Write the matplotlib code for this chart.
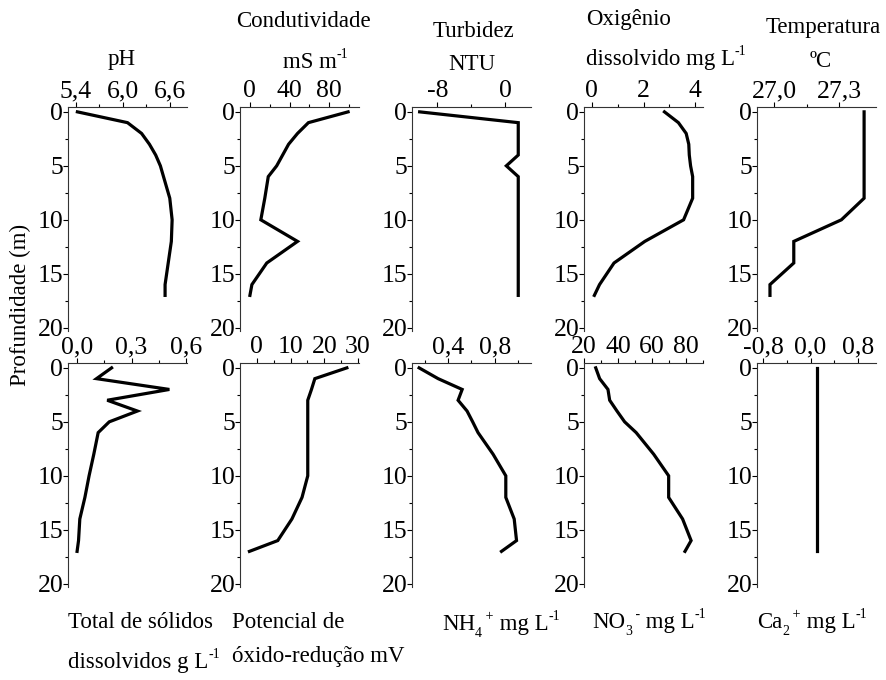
import numpy as np
import matplotlib
matplotlib.use('Agg')
from matplotlib import pylab as plt

plt.rcParams['font.family'] = ['Liberation Serif', 'DejaVu Serif']
plt.rcParams['font.size'] = 17

# profile depths (m), shared by every variable
depth = [0, 1, 2, 3, 4, 5, 6, 8, 10, 12, 14, 16, 17]

ph = [5.42, 6.06, 6.24, 6.34, 6.42, 6.48, 6.52, 6.60, 6.63, 6.62, 6.58, 6.54, 6.54]
conductivity = [99, 59, 48, 39, 33, 27, 18.5, 15, 11, 48, 17, 2, 0]
turbidity = [-10.1, 1.5, 1.5, 1.5, 1.5, 0.1, 1.5, 1.5, 1.5, 1.5, 1.5, 1.5, 1.5]
oxygen = [2.81, 3.35, 3.65, 3.75, 3.77, 3.82, 3.9, 3.9, 3.55, 2.05, 0.86, 0.3, 0.1]
temperature = [27.415, 27.415, 27.415, 27.415, 27.415, 27.415, 27.415, 27.415,
               27.31, 27.09, 27.09, 26.98, 26.98]
tds = [0.19, 0.107, 0.508, 0.166, 0.332, 0.177, 0.116, 0.092, 0.066, 0.043,
       0.015, 0.008, 0.0]
redox = [26.7, 17.2, 16.2, 15.1, 15.1, 15.1, 15.1, 15.1, 15.1, 13.4, 10.4, 6.2, -2.2]
ammonium = [0.151, 0.314, 0.52, 0.485, 0.562, 0.61, 0.656, 0.785, 0.894, 0.894,
            0.966, 0.986, 0.857]
nitrate = [26.9, 29.2, 34.1, 35.1, 39.4, 43.9, 50.7, 61, 69.8, 69.8, 78, 83, 79.4]
calcium = [0.1] * 13

depth_ticks = [0, 5, 10, 15, 20]

# (values, xlim, major ticks, tick labels, minor ticks)
panels = [
    [(ph, (5.3, 6.82), [5.4, 6.0, 6.6], ['5,4', '6,0', '6,6'], [5.7, 6.3]),
     (conductivity, (-10, 110), [0, 40, 80], ['0', '40', '80'], [20, 60, 100]),
     (turbidity, (-11, 3), [-8, 0], ['-8', '0'], [-4]),
     (oxygen, (-0.3, 4.3), [0, 2, 4], ['0', '2', '4'], [1, 3]),
     (temperature, (26.92, 27.47), [27.0, 27.3], ['27,0', '27,3'], [27.15])],
    [(tds, (-0.05, 0.605), [0.0, 0.3, 0.6], ['0,0', '0,3', '0,6'], [0.15, 0.45]),
     (redox, (-5, 30.3), [0, 10, 20, 30], ['0', '10', '20', '30'], [5, 15, 25]),
     (ammonium, (0.09, 1.11), [0.4, 0.8], ['0,4', '0,8'], [0.2, 0.6, 1.0]),
     (nitrate, (20, 90), [20, 40, 60, 80], ['20', '40', '60', '80'], [30, 50, 70, 90]),
     (calcium, (-0.91, 1.11), [-0.8, 0.0, 0.8], ['-0,8', '0,0', '0,8'], [-0.4, 0.4])],
]

W, H = 887, 680
fig = plt.figure(figsize=(W / 100, H / 100), dpi=100)
renderer = fig.canvas.get_renderer()

col_left = [68, 240, 412, 584, 757]
row_top = [107, 363]
ax_w, ax_h = 119, 224


def rich_text(x, y, parts, ha='left', size=16.5):
    """Write text pieces one after another on a common baseline (pixels from
    the top-left corner); 'sup' and 'sub' pieces are small and shifted."""
    texts = []
    cur = x
    for s, kind in parts:
        if kind == 'sup':
            fs, dy = 10, -10
        elif kind == 'sub':
            fs, dy = 10, 7
        else:
            fs, dy = size, 0
        t = fig.text(cur / W, 1 - (y + dy) / H, s, fontsize=fs,
                     ha='left', va='baseline')
        cur += t.get_window_extent(renderer).width
        texts.append(t)
    if ha == 'center':
        shift = (cur - x) / 2 / W
        for t in texts:
            t.set_x(t.get_position()[0] - shift)


for r, row in enumerate(panels):
    for c, (vals, xlim, ticks, labels, minor) in enumerate(row):
        ax = fig.add_axes([col_left[c] / W, 1 - (row_top[r] + ax_h) / H,
                           ax_w / W, ax_h / H])
        ax.plot(vals, depth, color='black', lw=2.3, solid_joinstyle='miter')
        ax.set_xlim(*xlim)
        ax.set_ylim(20.3, -0.45)
        ax.xaxis.tick_top()
        ax.set_xticks(ticks)
        ax.set_xticklabels(labels)
        ax.set_xticks(minor, minor=True)
        ax.set_yticks(depth_ticks)
        ax.set_yticks([2.5, 7.5, 12.5, 17.5], minor=True)
        ax.tick_params(which='major', direction='out', length=3.5, width=0.8,
                       pad=0, labelsize=18.5)
        ax.tick_params(which='minor', direction='out', length=2, width=0.8)
        ax.tick_params(axis='y', pad=0)
        for side in ('right', 'bottom'):
            ax.spines[side].set_visible(False)
        for side in ('left', 'top'):
            ax.spines[side].set_linewidth(0.8)
            ax.spines[side].set_color('#333333')
        ax.patch.set_alpha(0)

# titles above the upper row
rich_text(122, 65, [('pH', 'n')], ha='center')
rich_text(303, 27, [('Condutividade', 'n')], ha='center')
rich_text(283, 68, [('mS m', 'n'), ('-1', 'sup')])
rich_text(474, 37, [('Turbidez', 'n')], ha='center')
rich_text(472, 70, [('NTU', 'n')], ha='center')
rich_text(586, 25, [('Oxigênio', 'n')])
rich_text(586, 65, [('dissolvido mg L', 'n'), ('-1', 'sup')])
rich_text(823, 33, [('Temperatura', 'n')], ha='center')
rich_text(821, 67, [('ºC', 'n')], ha='center')

# labels below the lower row
rich_text(68, 628, [('Total de sólidos', 'n')])
rich_text(68, 668, [('dissolvidos g L', 'n'), ('-1', 'sup')])
rich_text(232, 628, [('Potencial de', 'n')])
rich_text(232, 662, [('óxido-redução mV', 'n')])
rich_text(442, 630, [('NH', 'n'), ('4', 'sub'), (' +', 'sup'), (' mg L', 'n'), ('-1', 'sup')])
rich_text(592, 628, [('NO', 'n'), ('3', 'sub'), (' -', 'sup'), (' mg L', 'n'), ('-1', 'sup')])
rich_text(757, 628, [('Ca', 'n'), ('2', 'sub'), (' +', 'sup'), (' mg L', 'n'), ('-1', 'sup')])

fig.text(20 / W, 1 - 305 / H, 'Profundidade (m)', rotation=90,
         ha='center', va='center', fontsize=16.5)

fig.savefig('out.png', dpi=100, facecolor='white')
